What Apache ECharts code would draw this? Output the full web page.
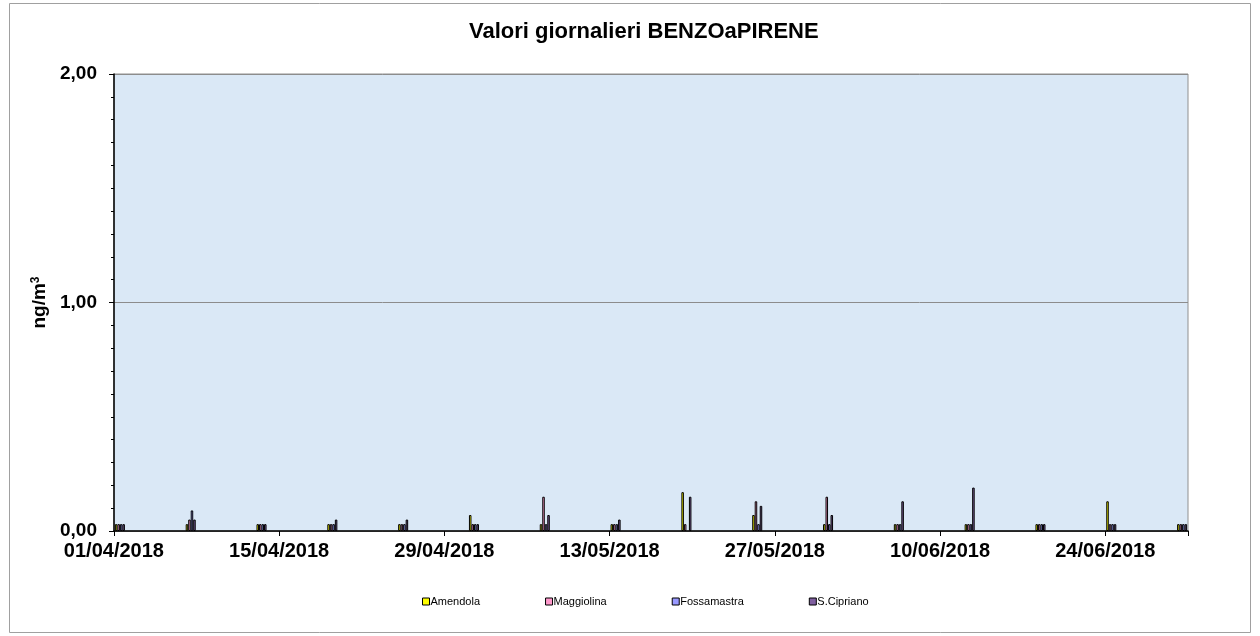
<!DOCTYPE html>
<html><head><meta charset="utf-8">
<script src="https://cdn.jsdelivr.net/npm/echarts@6/dist/echarts.min.js"></script>
<style>html,body{margin:0;padding:0;background:#fff}#c{width:1260px;height:636px}</style>
</head><body><div id="c"></div>
<script>
// Sampling days (index of day from 01/04/2018)
const sampleDays = [0, 6, 12, 18, 24, 30, 36, 42, 48, 54, 60, 66, 72, 78, 84, 90];
const amendola    = [0.03,0.03,0.03,0.03,0.03,0.07,0.03,0.03,0.17,0.07,0.03,0.03,0.03,0.03,0.13,0.03];
const maggiolina  = [0.03,0.05,0.03,0.03,0.03,0.03,0.15,0.03,0.03,0.13,0.15,0.03,0.03,0.03,0.03,0.03];
const fossamastra = [0.03,0.09,0.03,0.03,0.03,0.03,0.03,0.03,null,0.03,0.03,0.03,0.03,0.03,0.03,0.03];
const scipriano   = [0.03,0.05,0.03,0.05,0.05,0.03,0.07,0.05,0.15,0.11,0.07,0.13,0.19,0.03,0.03,0.03];
const seriesNames = ['Amendola','Maggiolina','Fossamastra','S.Cipriano'];
const yTicks = [0, 1, 2];

// Build 91 daily categories: 01/04/2018 .. 30/06/2018
const categories = [];
const start = new Date(Date.UTC(2018, 3, 1));
for (let i = 0; i < 91; i++) {
  const d = new Date(start.getTime() + i * 86400000);
  const dd = String(d.getUTCDate()).padStart(2, '0');
  const mm = String(d.getUTCMonth() + 1).padStart(2, '0');
  categories.push(dd + '/' + mm + '/' + d.getUTCFullYear());
}
function expand(vals) {
  const arr = new Array(categories.length).fill(null);
  sampleDays.forEach((d, k) => { arr[d] = vals[k]; });
  return arr;
}
const colors = ['#ffff00', '#ff99cc', '#9999ff', '#7f5f9f'];
const allVals = [amendola, maggiolina, fossamastra, scipriano];

const chart = echarts.init(document.getElementById('c'), null, {renderer: 'canvas'});
const F = '"Liberation Sans", Arial, sans-serif';
chart.setOption({
  animation: false,
  backgroundColor: '#ffffff',
  color: colors,
  title: {
    text: 'Valori giornalieri BENZOaPIRENE',
    left: 464, top: 16,
    textStyle: {fontFamily: F, fontSize: 22, fontWeight: 'bold', color: '#000'}
  },
  legend: {
    left: 417, top: 591,
    itemWidth: 7, itemHeight: 7, itemGap: 65,
    icon: 'rect',
    textStyle: {fontFamily: F, fontSize: 11, color: '#000', padding: [0,0,0,-4]},
    itemStyle: {borderColor: '#000', borderWidth: 1},
    data: seriesNames
  },
  grid: {
    left: 114, right: 72, top: 74, bottom: 105,
    show: true, backgroundColor: '#dae8f6', borderColor: '#909090', borderWidth: 1
  },
  xAxis: {
    type: 'category',
    data: categories,
    boundaryGap: true,
    axisLine: {lineStyle: {color: '#000', width: 1.5}},
    axisTick: {show: true, alignWithLabel: false, length: 5, interval: (i) => i % 14 === 0, lineStyle: {color: '#000'}},
    axisLabel: {
      interval: (i) => i % 14 === 0,
      fontFamily: F, fontSize: 20, fontWeight: 'bold', color: '#000',
      margin: 10, padding: [0, 12, 0, 0]
    },
    splitLine: {show: false}
  },
  yAxis: {
    type: 'value',
    min: yTicks[0], max: yTicks[yTicks.length - 1], interval: 1,
    name: '{a|ng/m}{b|3}',
    nameLocation: 'middle', nameRotate: 90, nameGap: 64,
    nameTextStyle: {
      fontFamily: F, fontSize: 19, fontWeight: 'bold', color: '#000',
      rich: {
        a: {fontFamily: F, fontSize: 19, fontWeight: 'bold', color: '#000'},
        b: {fontFamily: F, fontSize: 12, fontWeight: 'bold', color: '#000', verticalAlign: 'top', padding: [0,0,8,0]}
      }
    },
    axisLine: {show: true, lineStyle: {color: '#000', width: 1.5}},
    axisTick: {show: true, length: 5, lineStyle: {color: '#000'}},
    minorTick: {show: true, splitNumber: 10, length: 3, lineStyle: {color: '#000'}},
    axisLabel: {
      fontFamily: F, fontSize: 19, fontWeight: 'bold', color: '#000', margin: 17,
      formatter: (v) => v.toFixed(2).replace('.', ',')
    },
    splitLine: {show: true, lineStyle: {color: '#8c8c8c', width: 1}}
  },
  graphic: [{
    type: 'rect', silent: true, z: -1,
    shape: {x: 9.5, y: 3.5, width: 1241, height: 629},
    style: {fill: 'none', stroke: '#a0a0a0', lineWidth: 1}
  }],
  series: seriesNames.map((n, k) => ({
    name: n, type: 'bar',
    data: expand(allVals[k]),
    barGap: '0%', barCategoryGap: '15%',
    itemStyle: {color: colors[k], borderColor: '#000', borderWidth: 1}
  }))
});
</script></body></html>
